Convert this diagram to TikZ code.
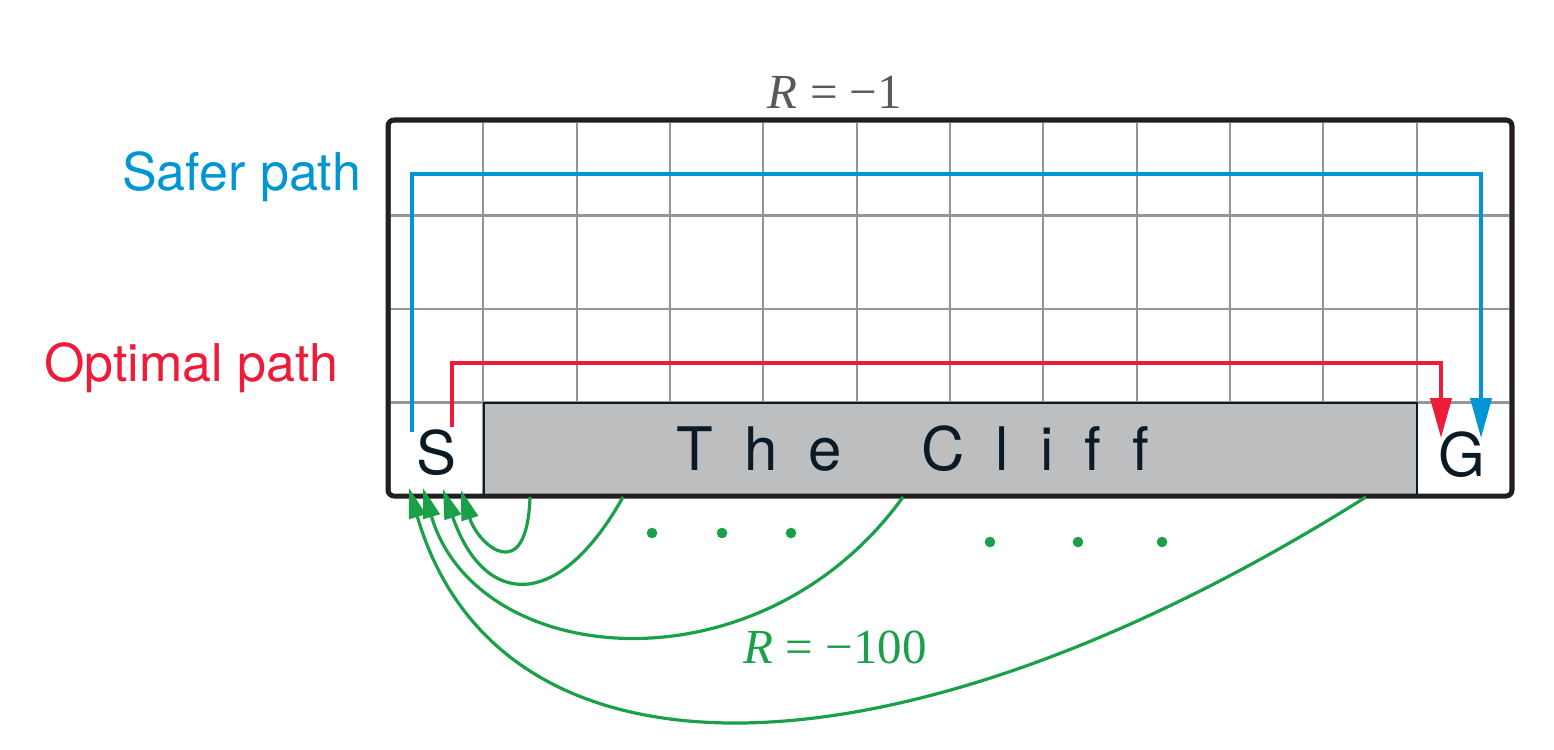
\documentclass[tikz,border=0pt]{standalone}
\usepackage{fontspec}
\setmainfont{Liberation Serif}
\newfontfamily\hel{TeX Gyre Heros}
\usetikzlibrary{arrows.meta}
\definecolor{gridgray}{HTML}{939598}
\definecolor{frame}{HTML}{231F20}
\definecolor{cliffgray}{HTML}{BCBEC0}
\definecolor{ink}{HTML}{0B1A27}
\definecolor{safe}{HTML}{0096D6}
\definecolor{opt}{HTML}{ED1C3A}
\definecolor{fall}{HTML}{1BA04A}
\definecolor{rgray}{HTML}{58595B}
\newcommand{\lsp}{\hspace{0.52em}}
\begin{document}
\begin{tikzpicture}[x=1pt,y=-1pt,
  gridline/.style={draw=gridgray,line width=2.2pt},
  pathline/.style={line width=4pt,line join=miter,-{Triangle[length=40pt,width=21pt]}},
  fallline/.style={draw=fall,line width=3.2pt,-{Triangle[length=30pt,width=17pt]}},
  sanslbl/.style={font=\hel\fontsize{52}{60}\selectfont,inner sep=0pt,anchor=base west},
  celllbl/.style={font=\hel\fontsize{60}{70}\selectfont,inner sep=0pt,anchor=base,text=ink},
  rlbl/.style={font=\fontsize{49}{58}\selectfont,inner sep=0pt,anchor=base},
  dot/.style={fill=fall}]
\useasboundingbox (0,0) rectangle (1554,749);
% grid
\draw[gridline] (390,122) rectangle (1510,496);
\foreach \i in {1,...,11} {\draw[gridline] ({390+\i*93.333},122) -- ({390+\i*93.333},496);}
\foreach \j in {1,2,3} {\draw[gridline] (390,{122+\j*93.5}) -- (1510,{122+\j*93.5});}
% cliff
\node[draw=ink,fill=cliffgray,line width=2pt,minimum width=933pt,minimum height=94pt,inner sep=0pt] (cliff) at (950.5,449.5) {};
% outer frame
\draw[draw=frame,line width=5pt,rounded corners=6pt] (388,120) rectangle (1512,496);
% labels
\node[celllbl] (cliffname) at (913,470) {T\lsp h\lsp e\lsp\ \lsp C\lsp l\lsp i\lsp f\lsp f};
\node[celllbl] (S) at (437,474) {S};
\node[celllbl] (G) at (1462,476) {G};
\node[sanslbl,text=safe] (safer) at (122,190) {Safer path};
\node[sanslbl,text=opt] (optimal) at (44,381) {Optimal path};
\node[rlbl,text=rgray] (rstep) at (835,109) {\textit{R} = −1};
\node[rlbl,text=fall] (rcliff) at (835,663) {\textit{R} = −100};
% safer and optimal paths
\coordinate (sb) at (412,432);
\coordinate (sc) at (1481,174);
\coordinate (sg) at (1481,438);
\draw[pathline,draw=safe] (sb) |- (sc) -- (sg);
\coordinate (ob) at (452,427);
\coordinate (oc) at (1441,363);
\coordinate (og) at (1441,438);
\draw[pathline,draw=opt] (ob) |- (oc) -- (og);
% falls
\coordinate (f1) at (530,497);
\coordinate (f2) at (623,497);
\coordinate (f3) at (903,497);
\coordinate (f4) at (1366,497);
\coordinate (t1) at (461,490);
\coordinate (t2) at (443,489);
\coordinate (t3) at (423,488);
\coordinate (t4) at (409,488);
\draw[fallline] (f1) .. controls (527,588) and (478,545) .. (t1);
\draw[fallline] (f2) .. controls (560,610) and (485,610) .. (t2);
\draw[fallline] (f3) .. controls (760,695) and (477,670) .. (t3);
\draw[fallline] (f4) .. controls (900,790) and (500,800) .. (t4);
% dots
\foreach \x/\y in {652/533,722/533,791/533,990/542,1078/542,1162/542}
  \fill[dot] (\x,\y) circle[radius=5.3pt];
\end{tikzpicture}
\end{document}
